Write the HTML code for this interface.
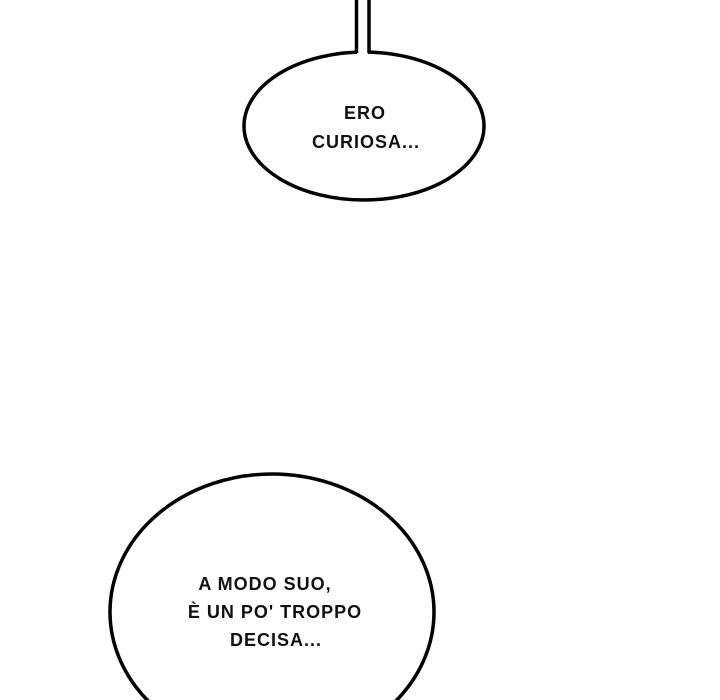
<!DOCTYPE html>
<html><head><meta charset="utf-8"><style>
html,body{margin:0;padding:0;background:#fff;width:720px;height:700px;overflow:hidden}
svg text{font-family:"Liberation Sans",sans-serif;font-size:18px;font-weight:bold;fill:#111;text-anchor:middle;letter-spacing:1px}
</style></head><body>
<svg width="720" height="700" viewBox="0 0 720 700" xmlns="http://www.w3.org/2000/svg">
<ellipse cx="364" cy="126" rx="120" ry="74" fill="#fff" stroke="#000" stroke-width="3.5"/>
<rect x="357" y="0" width="11" height="56" fill="#fff"/>
<line x1="356.5" y1="0" x2="356.5" y2="53" stroke="#000" stroke-width="3.5"/>
<line x1="369" y1="0" x2="369" y2="53" stroke="#000" stroke-width="3.5"/>
<text x="365" y="119">ERO</text>
<text x="366" y="148">CURIOSA...</text>
<ellipse cx="272" cy="612" rx="162" ry="138" fill="#fff" stroke="#000" stroke-width="3.5"/>
<text x="265" y="590">A MODO SUO,</text>
<text x="275" y="618">È UN PO' TROPPO</text>
<text x="276" y="646">DECISA...</text>
</svg>
</body></html>
